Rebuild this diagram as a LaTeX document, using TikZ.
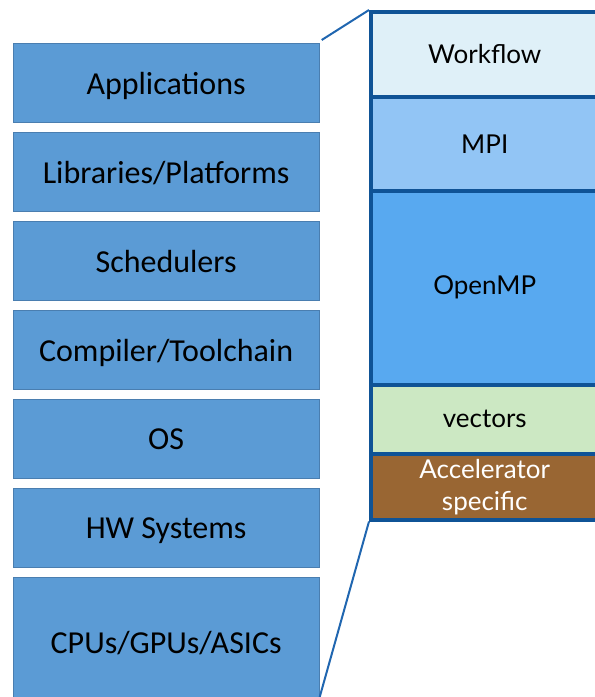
\documentclass[tikz,border=0pt]{standalone}
\usepackage{fontspec}
\setmainfont{Carlito}
\newfontfamily\gillfont{Lato}
\definecolor{leftfill}{HTML}{5B9BD5}
\definecolor{leftedge}{HTML}{4A7EB0}
\definecolor{stackedge}{HTML}{0F5396}
\definecolor{linkblue}{HTML}{2066B0}
\definecolor{wfill}{HTML}{DFF0F8}
\definecolor{mfill}{HTML}{92C5F5}
\definecolor{ofill}{HTML}{58A9F0}
\definecolor{vfill}{HTML}{CCE8C3}
\definecolor{afill}{HTML}{996633}
\begin{document}
\begin{tikzpicture}[x=1pt,y=-1pt,
  layer/.style={draw=leftedge,line width=1.2pt,fill=leftfill,minimum width=306pt,minimum height=79pt,inner sep=0pt,text depth=0pt,font=\fontsize{32}{36}\selectfont,anchor=north west},
  slab/.style={draw=stackedge,line width=3.5pt,inner sep=0pt,minimum width=228pt,anchor=north west,font=\gillfont\fontsize{26}{32}\selectfont},
  zoomline/.style={draw=linkblue,line width=2pt}]
\useasboundingbox (0,0) rectangle (595,697);
\clip (0,0) rectangle (595,697);
\node[layer] (app) at (12.5,43) {Applications};
\node[layer] (lib) at (12.5,132) {Libraries/Platforms};
\node[layer] (sch) at (12.5,221) {Schedulers};
\node[layer] (comp) at (12.5,310) {Compiler/Toolchain};
\node[layer] (os) at (12.5,399) {OS};
\node[layer] (hw) at (12.5,488) {HW Systems};
\node[layer,minimum height=130pt] (cpu) at (12.5,577) {CPUs/GPUs/ASICs};
\node[slab,fill=wfill,minimum height=85pt] (wf) at (369,10) {Workflow};
\node[slab,fill=mfill,minimum height=94pt] (mpi) at (369,95) {MPI};
\node[slab,fill=ofill,minimum height=194pt] (omp) at (369,189) {OpenMP};
\node[slab,fill=vfill,minimum height=69pt] (vec) at (369,383) {vectors};
\node[slab,fill=afill,minimum height=66pt,text=white,align=center] (acc) at (369,452) {Accelerator\\specific};
\draw[zoomline] (app.north east) ++(2,-3) coordinate (a1) -- (wf.north west);
\draw[zoomline] (cpu.north east |- 0,697) coordinate (a2) -- (acc.south west);
\end{tikzpicture}
\end{document}
